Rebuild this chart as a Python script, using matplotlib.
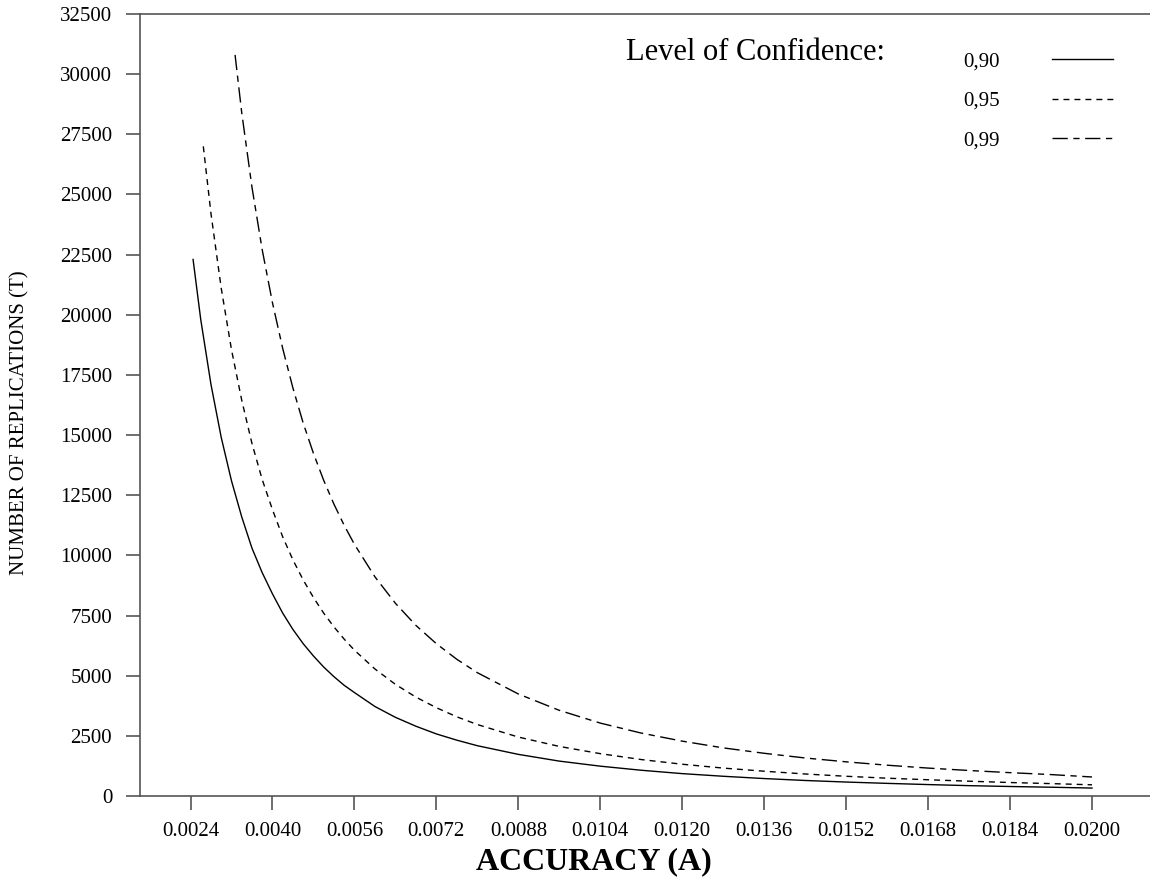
import numpy as np
import matplotlib
matplotlib.use("Agg")
import matplotlib.pyplot as plt

plt.rcParams['font.family'] = ['Liberation Serif', 'DejaVu Serif']
plt.rcParams['lines.scale_dashes'] = False

# accuracy values (A) and number of replications (T)
acc_90 = [0.00245, 0.0026, 0.0028, 0.0030, 0.0032, 0.0034, 0.0036, 0.0038, 0.0040,
          0.0042, 0.0044, 0.0046, 0.0048, 0.0050, 0.0052, 0.0054, 0.0056, 0.0060,
          0.0064, 0.0068, 0.0072, 0.0076, 0.0080, 0.0088, 0.0096, 0.0104, 0.0112,
          0.0120, 0.0128, 0.0136, 0.0144, 0.0152, 0.0160, 0.0168, 0.0176, 0.0184,
          0.0192, 0.0200]
t_90 = [22300, 19800, 17100, 14900, 13100, 11600, 10300, 9280, 8400,
        7600, 6920, 6330, 5820, 5360, 4960, 4600, 4300, 3720,
        3270, 2900, 2580, 2320, 2090, 1730, 1450, 1240, 1070,
        930, 820, 725, 645, 580, 525, 475, 430, 395,
        365, 330]

acc_95 = [0.00265, 0.0028, 0.0030, 0.0032, 0.0034, 0.0036, 0.0038, 0.0040,
          0.0042, 0.0044, 0.0046, 0.0048, 0.0050, 0.0052, 0.0054, 0.0056, 0.0060,
          0.0064, 0.0068, 0.0072, 0.0076, 0.0080, 0.0088, 0.0096, 0.0104, 0.0112,
          0.0120, 0.0128, 0.0136, 0.0144, 0.0152, 0.0160, 0.0168, 0.0176, 0.0184,
          0.0192, 0.0200]
t_95 = [27000, 24200, 21100, 18550, 16450, 14650, 13150, 11900,
        10770, 9810, 8980, 8250, 7600, 7030, 6520, 6060, 5280,
        4640, 4110, 3670, 3290, 2970, 2450, 2060, 1760, 1515,
        1320, 1160, 1030, 915, 820, 740, 675, 615, 560,
        515, 465]

acc_99 = [0.00327, 0.0034, 0.0036, 0.0038, 0.0040,
          0.0042, 0.0044, 0.0046, 0.0048, 0.0050, 0.0052, 0.0054, 0.0056, 0.0060,
          0.0064, 0.0068, 0.0072, 0.0076, 0.0080, 0.0088, 0.0096, 0.0104, 0.0112,
          0.0120, 0.0128, 0.0136, 0.0144, 0.0152, 0.0160, 0.0168, 0.0176, 0.0184,
          0.0192, 0.0200]
t_99 = [30800, 28400, 25300, 22700, 20500,
        18600, 16950, 15500, 14240, 13120, 12130, 11250, 10460, 9110,
        8010, 7090, 6330, 5680, 5125, 4240, 3560, 3030, 2615,
        2280, 2000, 1775, 1580, 1420, 1280, 1160, 1060, 970,
        890, 790]

x_ticks = [0.0024, 0.0040, 0.0056, 0.0072, 0.0088, 0.0104, 0.0120,
           0.0136, 0.0152, 0.0168, 0.0184, 0.0200]
y_ticks = list(range(0, 32501, 2500))

W, H = 1150, 888
fig = plt.figure(figsize=(W / 100, H / 100), dpi=100, facecolor='white')
ax = fig.add_axes([140 / W, 1 - 796 / H, 1 - 140 / W, (796 - 14) / H])

ax.plot(acc_90, t_90, color='black', lw=1.0, label='0,90')
ax.plot(acc_95, t_95, color='black', lw=1.0, dashes=(4.3, 3.6), label='0,95')
ax.plot(acc_99, t_99, color='black', lw=1.0, dashes=(11, 4, 4.5, 4), label='0,99')

ax.set_xlim(0.001414, 0.021132)
ax.set_ylim(0, 32500)
ax.set_xticks(x_ticks)
ax.set_xticklabels([f'{v:.4f}' for v in x_ticks])
ax.set_yticks(y_ticks)

spine_color = '#555555'
for side in ['left', 'bottom', 'top']:
    ax.spines[side].set_color(spine_color)
    ax.spines[side].set_linewidth(1.2)
ax.spines['right'].set_visible(False)
ax.tick_params(axis='both', direction='out', length=10, width=1.2,
               color=spine_color, labelsize=15, labelcolor='black')
ax.tick_params(axis='y', pad=10)
ax.tick_params(axis='x', pad=9)

fig.text(20 / W, 1 - 423 / H, 'NUMBER OF REPLICATIONS (T)', rotation=90,
         ha='center', va='center', fontsize=15)
fig.text(594 / W, 1 - 862 / H, 'ACCURACY (A)', ha='center', va='center',
         fontsize=23, fontweight='bold')

fig.text(626 / W, 1 - 60 / H, 'Level of Confidence:', ha='left',
         va='baseline', fontsize=22)
ax.legend(loc='upper right', bbox_to_anchor=(1113 / W, 1 - 52 / H),
          bbox_transform=fig.transFigure, frameon=False, markerfirst=False,
          fontsize=15, handlelength=2.93, handletextpad=2.5,
          labelspacing=0.95, borderpad=0, borderaxespad=0)

plt.savefig('out.png', dpi=100, facecolor='white')
plt.close()
